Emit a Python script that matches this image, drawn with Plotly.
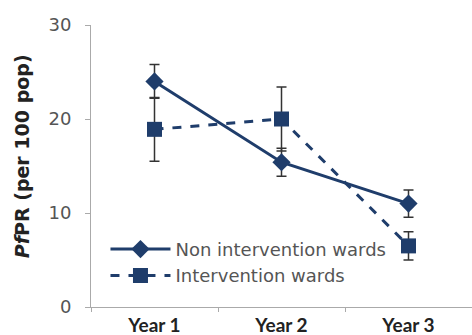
import plotly.graph_objects as go

years = ["Year 1", "Year 2", "Year 3"]
non_int = [24.0, 15.4, 11.0]
non_int_err = [1.8, 1.5, 1.45]
interv = [18.9, 20.0, 6.5]
interv_err = [3.4, 3.4, 1.5]

navy = "#1f3d6b"
fig = go.Figure()
fig.add_trace(go.Scatter(
    x=years, y=non_int, name="Non intervention wards", mode="lines+markers",
    line=dict(color=navy, width=3),
    marker=dict(symbol="diamond", size=14, color=navy),
    error_y=dict(type="data", array=non_int_err, color="#333333", thickness=1.5, width=5),
))
fig.add_trace(go.Scatter(
    x=years, y=interv, name="Intervention wards", mode="lines+markers",
    line=dict(color=navy, width=3, dash="dash"),
    marker=dict(symbol="square", size=15, color=navy),
    error_y=dict(type="data", array=interv_err, color="#333333", thickness=1.5, width=5),
))
fig.add_annotation(
    text="<i>Pf</i>PR (per 100 pop)", xref="paper", yref="paper",
    x=-0.181, y=0.535, xanchor="center", yanchor="middle", textangle=-90,
    showarrow=False,
    font=dict(family="DejaVu Sans", size=19, color="#222222", weight="bold"),
)
fig.update_layout(
    width=472, height=335,
    margin=dict(l=91, r=0, t=25, b=28, autoexpand=False),
    paper_bgcolor="white", plot_bgcolor="white",
    font=dict(family="DejaVu Sans", size=16, color="#555555"),
    showlegend=True,
    legend=dict(x=0.038, y=0.27, xanchor="left", yanchor="top",
                bgcolor="rgba(0,0,0,0)", font=dict(family="DejaVu Sans", size=18, color="#555555"),
                tracegroupgap=0, itemwidth=60),
    xaxis=dict(type="category", tickson="boundaries", ticks="outside", ticklen=4,
               tickcolor="#aaaaaa", showline=True, linecolor="#aaaaaa", linewidth=1,
               showgrid=False, range=[-0.5, 2.5], automargin=False, ticklabelstandoff=1,
               tickfont=dict(family="Lato", size=19, color="#222222", weight="bold")),
    yaxis=dict(range=[0, 30], tickvals=[0, 10, 20, 30], ticks="outside", ticklen=5,
               tickcolor="#aaaaaa", showline=True, linecolor="#aaaaaa", linewidth=1,
               showgrid=False, zeroline=False, automargin=False, ticklabelstandoff=10,
               tickfont=dict(family="DejaVu Sans", size=18, color="#555555")),
)
fig.write_html("out.html", post_script="document.body.style.margin='0';",
               config={"displayModeBar": False})
